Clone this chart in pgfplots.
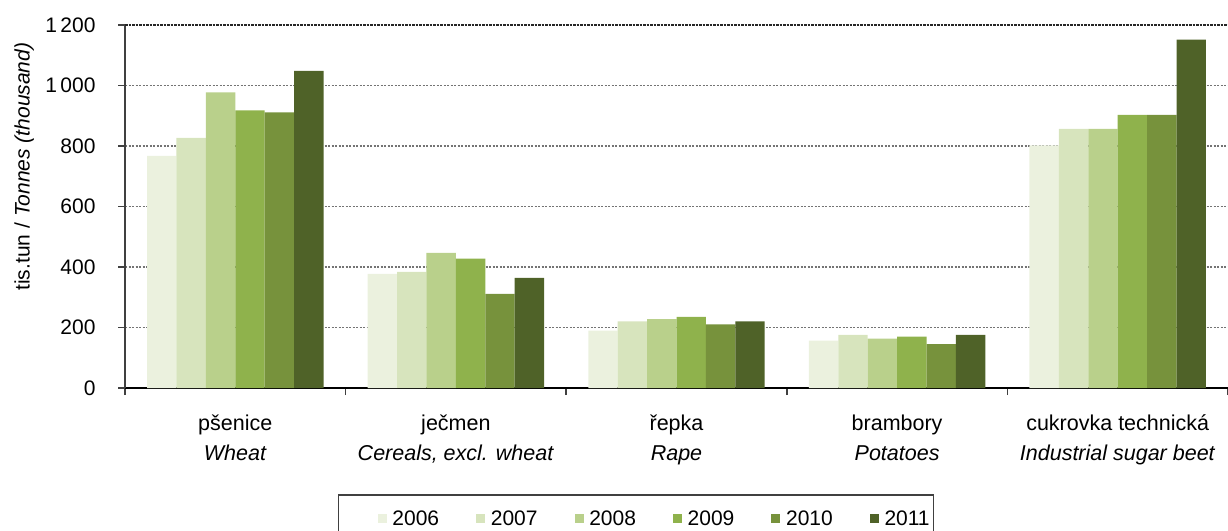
\documentclass[border=0pt]{standalone}
\usepackage{fontspec}
\setmainfont{Liberation Sans}
\usepackage{pgfplots}
\pgfplotsset{compat=1.18}
\definecolor{c06}{HTML}{EBF1DE}
\definecolor{c07}{HTML}{D7E4BD}
\definecolor{c08}{HTML}{B9D08B}
\definecolor{c09}{HTML}{8FB24C}
\definecolor{c10}{HTML}{77923C}
\definecolor{c11}{HTML}{4F6228}
\definecolor{gridc}{HTML}{747474}
\definecolor{axc}{HTML}{404040}
\begin{document}
\begin{tikzpicture}
\begin{axis}[
  at={(125pt,142pt)}, anchor=south west,
  scale only axis, width=1103pt, height=363pt,
  ybar=0pt, bar width=0.1333,
  xmin=-0.5, xmax=4.5, ymin=0, ymax=1200,
  axis x line*=bottom, axis y line*=left,
  x axis line style={black, line width=2.5pt},
  y axis line style={axc, line width=1.5pt},
  tick align=outside, major tick length=7pt,
  tick style={axc, line width=1.5pt},
  xtick={-0.5,0.5,1.5,2.5,3.5,4.5},
  xticklabels={},
  extra x ticks={0,1,2,3,4},
  extra x tick labels={{pšenice\\\textit{Wheat}},{ječmen\\\textit{Cereals, excl. wheat}},{řepka\\\textit{Rape}},{brambory\\\textit{Potatoes}},{cukrovka technická\\\textit{Industrial sugar beet}}},
  extra x tick style={major tick style={draw=none}, grid=none},
  xticklabel style={align=center, font=\fontsize{21.5}{30}\selectfont, yshift=-16pt},
  ytick={0,200,...,1200},
  extra y ticks={1200},
  extra y tick labels={},
  extra y tick style={major grid style={black!85, line width=2pt, dash pattern=on 2.5pt off 1pt}},
  yticklabel style={font=\fontsize{21}{25}\selectfont, xshift=-19pt},
  /pgf/number format/1000 sep={\,},
  /pgf/number format/assume math mode=true,
  ymajorgrids, major grid style={gridc, line width=1.5pt, dash pattern=on 2pt off 1.5pt},
  ylabel={tis.tun / \textit{Tonnes (thousand)}},
  ylabel style={font=\fontsize{21}{25}\selectfont, at={(axis description cs:-0.0915,0.61)}, anchor=center},
  legend columns=6,
  legend style={at={(0.1931,-0.292)}, anchor=north west, draw=axc, line width=1.5pt,
    font=\fontsize{21}{25}\selectfont, inner xsep=4pt, inner ysep=12pt,
    nodes={inner xsep=0pt, inner ysep=4pt},
    /tikz/every even column/.append style={column sep=2pt},
    /tikz/every odd column/.append style={column sep=5.7pt}},
  legend image code/.code={\path (-35pt,0pt); \fill[#1] (0pt,-4.5pt) rectangle (9pt,4.5pt);},
]
\addplot[fill=c06, draw=none] coordinates {(0,767) (1,377) (2,190) (3,157) (4,802)};
\addplot[fill=c07, draw=none] coordinates {(0,827) (1,384) (2,220) (3,176) (4,857)};
\addplot[fill=c08, draw=none] coordinates {(0,977) (1,447) (2,228) (3,163) (4,857)};
\addplot[fill=c09, draw=none] coordinates {(0,918) (1,428) (2,235) (3,170) (4,903)};
\addplot[fill=c10, draw=none] coordinates {(0,911) (1,311) (2,210) (3,145) (4,903)};
\addplot[fill=c11, draw=none] coordinates {(0,1048) (1,364) (2,220) (3,176) (4,1152)};
\legend{2006,2007,2008,2009,2010,2011}
\end{axis}
\pgfresetboundingbox
\path[use as bounding box] (0,0) rectangle (1228pt,530pt);
\end{tikzpicture}
\end{document}
